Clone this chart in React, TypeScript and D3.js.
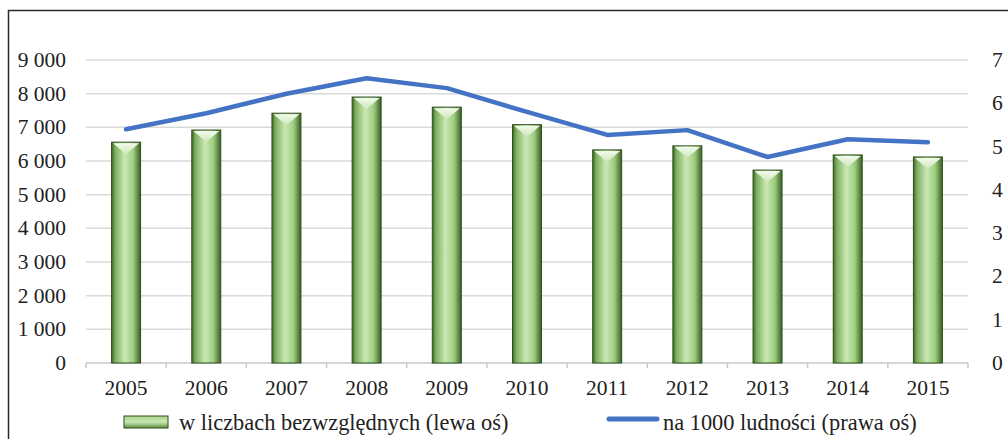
import React from "react";
import * as d3 from "d3";

const years = ["2005","2006","2007","2008","2009","2010","2011","2012","2013","2014","2015"];
const absValues = [6560, 6920, 7420, 7900, 7600, 7080, 6330, 6450, 5730, 6180, 6120];
const per1000 = [5.40, 5.77, 6.22, 6.58, 6.35, 5.80, 5.27, 5.38, 4.76, 5.17, 5.10];
const leftTicks = [0, 1000, 2000, 3000, 4000, 5000, 6000, 7000, 8000, 9000];
const rightTicks = [0, 1, 2, 3, 4, 5, 6, 7];
const legendBars = "w liczbach bezwzględnych (lewa oś)";
const legendLine = "na 1000 ludności (prawa oś)";

const W = 1008, H = 439;
const X0 = 86, X1 = 968, Y0 = 363, Y1 = 60;
const FONT = "Liberation Serif, Times New Roman, serif";

const fmt = (v: number) => {
  const s = String(v);
  return s.length > 3 ? s.slice(0, s.length - 3) + " " + s.slice(-3) : s;
};

export default function App() {
  const x = d3.scaleBand<string>().domain(years).range([X0, X1]).padding(0);
  const yL = d3.scaleLinear().domain([0, 9000]).range([Y0, Y1]);
  const yR = d3.scaleLinear().domain([0, 7]).range([Y0, Y1]);
  const bw = 29;
  const line = d3
    .line<number>()
    .x((_, i) => (x(years[i]) as number) + x.bandwidth() / 2)
    .y((d) => yR(d));

  const axisStyle = { fontFamily: FONT, fontSize: "21.5px" } as React.CSSProperties;
  const legStyle = { fontFamily: FONT, fontSize: "22.4px" } as React.CSSProperties;

  return (
    <svg width={W} height={H} style={{ position: "absolute", left: 0, top: 0, background: "#fff" }}>
      <defs>
        <linearGradient id="barG" x1="0" x2="1" y1="0" y2="0">
          <stop offset="0%" stopColor="#3c6626" />
          <stop offset="12%" stopColor="#7cae5e" />
          <stop offset="45%" stopColor="#cbe8b4" />
          <stop offset="75%" stopColor="#9dcd80" />
          <stop offset="100%" stopColor="#385f22" />
        </linearGradient>
        <linearGradient id="capG" x1="0" x2="0" y1="0" y2="1">
          <stop offset="0%" stopColor="#f2faea" />
          <stop offset="100%" stopColor="#cfe8bb" />
        </linearGradient>
        <linearGradient id="legG" x1="0" x2="0" y1="0" y2="1">
          <stop offset="0%" stopColor="#a9d38d" />
          <stop offset="50%" stopColor="#c9e6b3" />
          <stop offset="100%" stopColor="#5e8f40" />
        </linearGradient>
      </defs>
      <rect x={8.5} y={10.5} width={1010} height={440} fill="none" stroke="#2a2a2a" strokeWidth={1.5} />

      {leftTicks.slice(1).map((t) => (
        <line key={t} x1={X0} x2={X1} y1={yL(t)} y2={yL(t)} stroke="#d9d9d9" strokeWidth={1.5} />
      ))}
      <line x1={X0} x2={X1} y1={Y0} y2={Y0} stroke="#c8c8c8" strokeWidth={1.5} />
      {d3.range(years.length + 1).map((i) => {
        const xx = X0 + i * x.bandwidth();
        return <line key={i} x1={xx} x2={xx} y1={Y0} y2={Y0 + 5} stroke="#c8c8c8" strokeWidth={1.5} />;
      })}

      {leftTicks.map((t) => (
        <text key={t} x={66} y={yL(t) + 7} textAnchor="end" style={axisStyle} fill="#222">
          {fmt(t)}
        </text>
      ))}
      {rightTicks.map((t) => (
        <text key={t} x={992} y={yR(t) + 7} textAnchor="start" style={axisStyle} fill="#222">
          {t}
        </text>
      ))}

      {absValues.map((v, i) => {
        const cx = (x(years[i]) as number) + x.bandwidth() / 2;
        const left = cx - bw / 2;
        const top = yL(v);
        const capH = 12;
        return (
          <g key={years[i]}>
            <rect x={left} y={top} width={bw} height={Y0 - top} fill="url(#barG)" stroke="#2f4f1d" strokeWidth={1} />
            <polygon
              points={`${left + 1.5},${top + 1} ${left + bw - 1.5},${top + 1} ${cx},${top + capH}`}
              fill="url(#capG)"
            />
          </g>
        );
      })}

      <path d={line(per1000) || ""} fill="none" stroke="#4472c4" strokeWidth={4.5} strokeLinejoin="round" strokeLinecap="round" />

      {years.map((yv) => (
        <text
          key={yv}
          x={(x(yv) as number) + x.bandwidth() / 2}
          y={395}
          textAnchor="middle"
          style={axisStyle}
          fill="#222"
        >
          {yv}
        </text>
      ))}

      <rect x={124} y={416} width={44} height={12} fill="url(#legG)" stroke="#2f4f1d" strokeWidth={1} />
      <text x={179} y={430} style={legStyle} fill="#222">
        {legendBars}
      </text>
      <line x1={609} x2={657} y1={419} y2={419} stroke="#4472c4" strokeWidth={5} strokeLinecap="round" />
      <text x={663} y={430} style={legStyle} fill="#222">
        {legendLine}
      </text>
    </svg>
  );
}
